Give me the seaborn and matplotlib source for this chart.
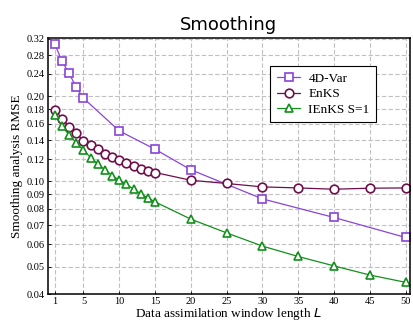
import matplotlib
matplotlib.use("Agg")
import matplotlib.pyplot as plt
import matplotlib.ticker as mticker
import seaborn as sns
import pandas as pd

L_var = [1, 2, 3, 4, 5, 10, 15, 20, 30, 40, 50]
rmse_var = [0.306, 0.266, 0.241, 0.215, 0.197, 0.151, 0.130, 0.110, 0.0868, 0.0746, 0.0634]

L_ens = list(range(1, 16)) + [20, 25, 30, 35, 40, 45, 50]
rmse_enks = [0.179, 0.167, 0.156, 0.148, 0.139, 0.135, 0.130, 0.1256, 0.122, 0.119,
             0.116, 0.113, 0.111, 0.109, 0.1076, 0.101, 0.0984, 0.0957, 0.0949, 0.0939,
             0.0947, 0.0949]
rmse_ienks = [0.172, 0.157, 0.146, 0.137, 0.129, 0.1215, 0.115, 0.110, 0.105, 0.101,
              0.0976, 0.094, 0.0904, 0.0875, 0.0847, 0.0736, 0.0658, 0.0591, 0.0543, 0.0503,
              0.0467, 0.0440]

names = ["4D-Var", "EnKS", "IEnKS S=1"]
colors = ["#8a44d8", "#6e0f4c", "#12901a"]
markers = ["s", "o", "^"]

xticks = [1, 5, 10, 15, 20, 25, 30, 35, 40, 45, 50]
yticks = [0.04, 0.05, 0.06, 0.07, 0.08, 0.09, 0.10, 0.12, 0.14, 0.16, 0.18, 0.20, 0.24, 0.28, 0.32]

sns.set_style("ticks")
plt.rcParams["font.family"] = ["Liberation Serif", "DejaVu Serif"]
plt.rcParams["text.color"] = "black"
plt.rcParams["axes.labelcolor"] = "black"
plt.rcParams["xtick.color"] = "black"
plt.rcParams["ytick.color"] = "black"

fig = plt.figure(figsize=(4.13, 3.21), dpi=100)
ax = fig.add_axes([0.1155, 0.084, 0.877, 0.798])

series = [(L_var, rmse_var), (L_ens, rmse_enks), (L_ens, rmse_ienks)]
ms = [5.2, 6.2, 6.0]
for (xs, ys), name, c, m, s in zip(series, names, colors, markers, ms):
    df = pd.DataFrame({"L": xs, "RMSE": ys})
    sns.lineplot(data=df, x="L", y="RMSE", ax=ax, color=c, marker=m, markersize=s,
                 markerfacecolor="white", markeredgecolor=c, markeredgewidth=1.2,
                 linewidth=0.9, label=name)

ax.set_yscale("log")
ax.set_ylim(0.04, 0.322)
ax.set_xlim(0, 50.6)
ax.yaxis.set_major_locator(mticker.FixedLocator(yticks))
ax.yaxis.set_minor_locator(mticker.NullLocator())
ax.yaxis.set_major_formatter(mticker.FixedFormatter([f"{v:.2f}" for v in yticks]))
ax.xaxis.set_major_locator(mticker.FixedLocator(xticks))
ax.xaxis.set_minor_locator(mticker.NullLocator())
ax.tick_params(axis="both", labelsize=7.5, direction="in", length=2.5, width=0.6, pad=2)

ax.grid(True, which="major", color="#c0c0c0", linestyle=(0, (4, 2)), linewidth=0.8)
for sp in ax.spines.values():
    sp.set_linewidth(1.1)
    sp.set_color("black")

ax.set_xlabel("Data assimilation window length $L$", fontsize=9.5, labelpad=0)
ax.set_ylabel("Smoothing analysis RMSE", fontsize=9.5, labelpad=3)
ax.set_title("Smoothing", fontsize=13, family="DejaVu Sans", pad=6)

leg = ax.legend(loc="upper right", bbox_to_anchor=(0.925, 0.916), fontsize=9.5,
                frameon=True, fancybox=False, edgecolor="black", framealpha=1,
                handlelength=1.8, borderpad=0.5, labelspacing=0.25, handletextpad=0.6)
leg.get_frame().set_linewidth(0.8)

fig.savefig("out.png", dpi=100)
